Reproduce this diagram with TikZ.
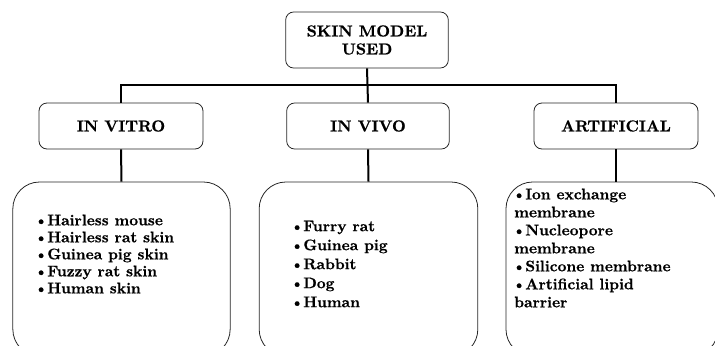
\documentclass[tikz,border=0pt]{standalone}
\usepackage{fontspec}
\newfontfamily\heavy[FakeBold=0.6]{lmroman10-bold.otf}
\newcommand\bul{\leavevmode\kern-1.5pt\textbullet\kern-0.5pt}
\begin{document}
\begin{tikzpicture}[x=0.75pt,y=-0.75pt,
  head/.style={draw=black!85,line width=0.6pt,rounded corners=6pt,align=center,
    font=\fontsize{12}{13.5}\selectfont\heavy,inner sep=0pt},
  listbox/.style={draw=black!85,line width=0.6pt,rounded corners=20pt,inner sep=0pt},
  listtext/.style={align=left,anchor=west,inner sep=0pt},
  conn/.style={line width=1.5pt,black}]
\useasboundingbox (0,0) rectangle (715,347);
\clip (0,0) rectangle (715,345);
\node[head,minimum width=122pt,minimum height=42pt] (top) at (367,40) {SKIN MODEL\\USED};
\node[head,minimum width=123pt,minimum height=34.5pt] (vitro) at (121,126) {IN VITRO};
\node[head,minimum width=122pt,minimum height=34.5pt] (vivo) at (368,126) {IN VIVO};
\node[head,minimum width=123pt,minimum height=34.5pt] (art) at (616,126) {ARTIFICIAL};
\node[listbox,minimum width=163pt,minimum height=130.5pt] (vitrolist) at (121.5,269) {};
\node[listbox,minimum width=164pt,minimum height=130.5pt] (vivolist) at (368.5,269) {};
\node[listbox,minimum width=159pt,minimum height=130.5pt] (artlist) at (612,269) {};
\node[listtext,font=\fontsize{11.5}{12.75}\selectfont\heavy] (vitrotext) at (36,254) {\bul Hairless mouse\\\bul Hairless rat skin\\\bul Guinea pig skin\\\bul Fuzzy rat skin\\\bul Human skin};
\node[listtext,font=\fontsize{11.5}{14.25}\selectfont\heavy] (vivotext) at (292,264) {\bul Furry rat\\\bul Guinea pig\\\bul Rabbit\\\bul Dog\\\bul Human};
\node[listtext,font=\fontsize{11.5}{13.5}\selectfont\heavy] (arttext) at (514,248) {\bul Ion exchange\\membrane\\\bul Nucleopore\\membrane\\\bul Silicone membrane\\\bul Artificial lipid\\barrier};
\coordinate (bus) at (368,85);
\draw[conn] (top.south) -- (vivo.north);
\draw[conn] (vitro.north) |- (bus) -| (art.north);
\draw[conn] (vitro.south) -- (vitrolist.north);
\draw[conn] (vivo.south) -- (vivolist.north);
\draw[conn] (art.south) -- (art.south |- artlist.north);
\end{tikzpicture}
\end{document}
